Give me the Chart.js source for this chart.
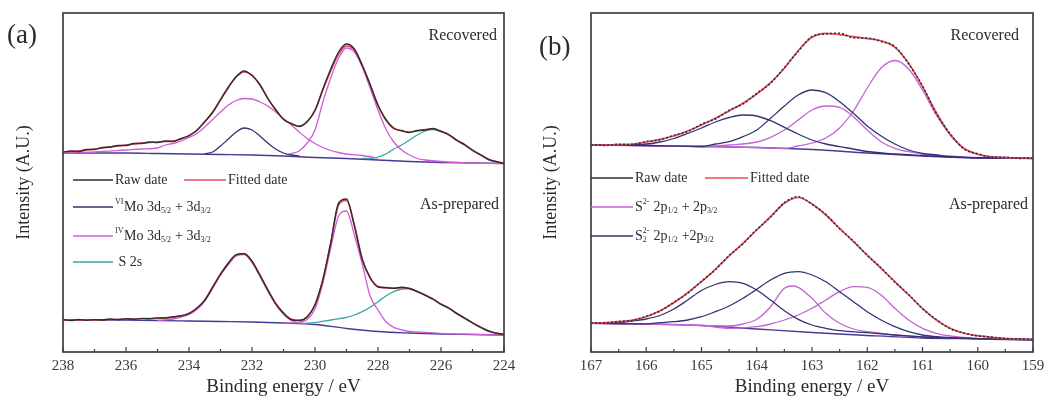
<!DOCTYPE html>
<html>
<head>
<meta charset="utf-8">
<title>XPS Mo 3d and S 2p</title>
<script src="https://cdn.jsdelivr.net/npm/chart.js@4.4.0/dist/chart.umd.min.js"></script>
<style>
  body { margin: 0; background: #fff; }
  .panel { position: absolute; top: 0; width: 527px; height: 400px; }
  #panelA { left: 0; }
  #panelB { left: 527px; }
</style>
</head>
<body>
<div class="panel" id="panelA"><canvas id="chartA"></canvas></div>
<div class="panel" id="panelB"><canvas id="chartB"></canvas></div>
<script>
// ---- panel (a): Mo 3d ----
const energyA = [238, 237.75, 237.5, 237.25, 237, 236.75, 236.5, 236.25, 236, 235.75, 235.5, 235.25, 235, 234.75, 234.5, 234.25, 234, 233.75, 233.5, 233.25, 233, 232.75, 232.5, 232.25, 232, 231.75, 231.5, 231.25, 231, 230.75, 230.5, 230.25, 230, 229.75, 229.5, 229.25, 229, 228.75, 228.5, 228.25, 228, 227.75, 227.5, 227.25, 227, 226.75, 226.5, 226.25, 226, 225.75, 225.5, 225.25, 225, 224.75, 224.5, 224.25, 224];
const baseEnergyA = [238, 237, 236, 235, 234, 233, 232, 231, 230, 229, 228, 227, 226, 225, 224];
const xTicksA = [238, 236, 234, 232, 230, 228, 226, 224];
const minorTicksA = [237, 235, 233, 231, 229, 227, 225];

// recovered
const recRawA = [200, 201, 200.5, 202.5, 202.5, 204.5, 205, 206.5, 206.5, 208.5, 208.5, 210, 209.5, 211, 210.5, 213.5, 216.5, 221.5, 230.5, 239.5, 252.5, 264.5, 275.5, 281, 276.5, 267.5, 253.5, 242.5, 232.5, 228.5, 225.5, 230.5, 241.5, 263, 283, 300, 308, 303, 286.5, 267.5, 246.5, 232.5, 223.5, 221.5, 219.5, 221.5, 222, 223.5, 220.5, 217.5, 211.5, 207.5, 201.5, 197.5, 192.5, 190.5, 188.5];
const recFitA = [200, 200.5, 201, 202, 203, 204, 205, 206, 207, 208, 209, 209.5, 210, 210.5, 211, 213, 216, 222, 230, 240, 252, 265, 275, 280, 277, 267, 254, 242, 233, 228, 226, 230, 242, 262, 281, 298, 306, 302, 287, 267, 247, 232, 224, 221, 220, 221, 222.5, 223, 221, 217, 212, 207, 202, 197, 193, 190, 189];
const recBaseA = [199, 199, 199, 198.5, 198, 197.5, 197, 196, 194.5, 193.5, 192, 190.5, 189.5, 189, 188.5];
const recVIEnergyA = [233.5, 233.25, 233, 232.75, 232.5, 232.25, 232, 231.75, 231.5, 231.25, 231, 230.75, 230.5];
const recVIA = [198, 200, 206, 213, 220, 224, 222, 216, 209, 203, 199, 197, 196];
const recIV1EnergyA = [238, 237, 236, 235.5, 235, 234.75, 234.5, 234.25, 234, 233.75, 233.5, 233.25, 233, 232.75, 232.5, 232.25, 232, 231.75, 231.5, 231.25, 231, 230.75, 230.5, 230.25, 230, 229.75, 229.5, 229.25, 229, 228.5, 228];
const recIV1A = [199, 200, 202, 203, 204, 207, 208.5, 211, 214.5, 218.5, 225, 232.5, 240, 247, 251.5, 253.5, 253, 250, 246, 240, 233.5, 227, 220, 213.5, 208.5, 204.5, 201.5, 199.5, 198, 196.5, 194];
const recIV2EnergyA = [231, 230.75, 230.5, 230.25, 230, 229.75, 229.5, 229.25, 229, 228.75, 228.5, 228.25, 228, 227.75, 227.5, 227.25, 227, 226.75, 226.5, 226, 225, 224];
const recIV2A = [196, 198.5, 201, 209, 222, 250, 274, 294, 304, 300, 285, 264, 242, 223, 210, 202, 197, 193.5, 192, 190.5, 189, 188.5];
const recS2sEnergyA = [228.5, 228.25, 228, 227.75, 227.5, 227.25, 227, 226.75, 226.5, 226.25, 226, 225.75, 225.5, 225.25, 225, 224.75, 224.5, 224.25, 224];
const recS2sA = [193.5, 193.5, 195, 198, 203, 207, 212, 217, 221, 222.5, 220.5, 217, 212, 207, 202, 197, 193, 190, 188.7];

// as-prepared
const asRawA = [32.5, 31.5, 32.5, 31.8, 32.4, 32, 33, 32.3, 33.2, 32.7, 33.6, 33.2, 34.1, 34, 35.2, 36.3, 38.4, 44, 51.6, 64.9, 77.6, 89, 97.4, 98.2, 90.8, 76.6, 62.4, 48.4, 39, 32.3, 31.7, 35, 47.4, 72.5, 109.5, 149, 153, 126, 92.5, 74.5, 65, 64.5, 63.6, 64.8, 63.3, 60.7, 56.6, 53, 47.6, 44, 38.3, 34, 29, 25, 21, 19, 17.5];
const asFitA = [32, 32, 32, 32, 32, 32.3, 32.5, 32.7, 32.8, 33, 33.2, 33.5, 33.7, 34.2, 34.8, 36, 38.7, 43.7, 52, 64.5, 78, 88.7, 97, 98.5, 90.5, 77, 62, 48.7, 38.7, 32.7, 31.3, 35.3, 47, 72, 108.7, 147, 151.5, 127, 93, 74, 65.5, 64, 64, 64.3, 63.7, 60.3, 57, 52.7, 48, 43.7, 38.7, 33.7, 29.3, 24.7, 21.3, 18.7, 17.7];
const asBaseA = [32, 32, 31.8, 31.5, 31, 30.5, 30, 29, 27.5, 23.5, 20.5, 19, 18, 17.5, 17];
const asIV1EnergyA = [235, 234.5, 234.25, 234, 233.75, 233.5, 233.25, 233, 232.75, 232.5, 232.25, 232, 231.75, 231.5, 231.25, 231, 230.75, 230.5];
const asIV1A = [31.5, 33, 35, 37.5, 42.5, 51, 63.5, 77, 87.5, 96, 97.5, 89.5, 76, 61, 47.7, 37.7, 31.5, 29];
const asIV2EnergyA = [231, 230.75, 230.5, 230.25, 230, 229.75, 229.5, 229.25, 229, 228.75, 228.5, 228.25, 228, 227.75, 227.5, 227.25, 227, 226.5, 226, 225, 224];
const asIV2A = [29, 29.2, 29.5, 32.5, 43, 69, 104, 136, 141, 117, 88, 56, 42, 30.3, 24.7, 22, 20.7, 19.7, 18.7, 17.7, 17];
const asS2sEnergyA = [230.5, 230, 229.5, 229, 228.75, 228.5, 228.25, 228, 227.75, 227.5, 227.25, 227, 226.75, 226.5, 226.25, 226, 225.75, 225.5, 225.25, 225, 224.75, 224.5, 224.25, 224];
const asS2sA = [28.5, 29.3, 32, 34.7, 37, 40.3, 44.7, 50.3, 56, 60.3, 63, 63.5, 60, 56.8, 52.5, 47.8, 43.5, 38.5, 33.5, 29.2, 24.6, 21.2, 18.6, 17.6];

// ---- panel (b): S 2p ----
const energyB = [167, 166.75, 166.5, 166.25, 166, 165.75, 165.5, 165.25, 165, 164.75, 164.5, 164.25, 164, 163.75, 163.5, 163.25, 163, 162.75, 162.5, 162.25, 162, 161.75, 161.5, 161.25, 161, 160.75, 160.5, 160.25, 160, 159.75, 159.5, 159.25, 159];
const baseEnergyB = [167, 166, 165, 164, 163, 162, 161, 160, 159];
const xTicksB = [167, 166, 165, 164, 163, 162, 161, 160, 159];
const minorTicksB = [166.5, 165.5, 164.5, 163.5, 162.5, 161.5, 160.5, 159.5];

// recovered
const recRawB = [207.5, 206.5, 207.8, 207.5, 210.6, 212.2, 216.8, 220.4, 227.8, 233, 241.8, 248, 258.7, 268.6, 284.5, 300.6, 315.5, 318, 318.8, 314.2, 313.9, 310.5, 305.5, 288, 266, 238.6, 218.3, 203, 198.3, 194.8, 194.7, 193.6, 194];
const recFitB = [207, 207, 207.3, 208, 210, 212.7, 216, 221, 227, 233.7, 241, 248.7, 258, 269.3, 283.7, 301.3, 314.7, 318.7, 317.3, 315.3, 313.3, 311.3, 304.7, 288.7, 265.3, 239.3, 217.7, 203.7, 197.7, 195.3, 194.3, 194, 193.7];
const recBaseB = [207, 206.5, 205.5, 204.5, 202.5, 199, 196, 194, 193.5];
const recS22aEnergyB = [167, 166.5, 166, 165.75, 165.5, 165.25, 165, 164.75, 164.5, 164.25, 164, 163.75, 163.5, 163.25, 163, 162.75, 162.5, 162.25, 162, 161.5, 161, 160, 159];
const recS22aB = [207, 207, 208, 210, 213.5, 218.5, 224, 230, 234.5, 237, 236, 231.3, 224.7, 218, 212, 208, 205.3, 203, 200.5, 198, 196.5, 194.2, 193.7];
const recS22bEnergyB = [167, 166, 165, 164.75, 164.5, 164.25, 164, 163.75, 163.5, 163.25, 163, 162.75, 162.5, 162.25, 162, 161.75, 161.5, 161.25, 161, 160.75, 160.5, 160, 159];
const recS22bB = [207, 206.5, 205.5, 208, 210.3, 215.3, 222, 233.7, 246, 257, 262, 259.3, 250.3, 238.7, 226, 216, 208, 202, 198.7, 197, 195.3, 194.3, 193.7];
const recS2aEnergyB = [167, 166, 165, 164.5, 164, 163.75, 163.5, 163.25, 163, 162.75, 162.5, 162.25, 162, 161.75, 161.5, 161.25, 161, 160.5, 160, 159];
const recS2aB = [207, 206.5, 205.5, 207, 210, 214.7, 222, 232, 242, 246, 244.7, 235.3, 222, 210.3, 203.7, 200.3, 198, 196, 194.5, 193.7];
const recS2bEnergyB = [167, 165, 164, 163.5, 163.25, 163, 162.75, 162.5, 162.25, 162, 161.75, 161.5, 161.25, 161, 160.75, 160.5, 160.25, 160, 159.75, 159.5, 159];
const recS2bB = [207, 205.5, 204.5, 203.5, 206, 209, 214, 224, 241, 264, 284, 291.5, 283, 262, 237, 217, 203.5, 197.5, 195.2, 194.3, 193.7];

// as-prepared
const asRawB = [29, 28.8, 30.6, 31.6, 35.8, 40.9, 49.8, 58.8, 70.9, 82.2, 96.6, 108.1, 122.6, 134.8, 149.3, 155.5, 147.6, 137.6, 123.2, 110.9, 96.5, 84.2, 69.8, 57.5, 43.2, 32.5, 23.3, 19, 16, 15, 13.4, 13.2, 12.5];
const asFitB = [28.7, 29.3, 30.3, 32, 35.3, 41.3, 49.3, 59.3, 70.3, 82.7, 96, 108.7, 122, 135.3, 148.7, 154.5, 148, 137, 123.7, 110.3, 97, 83.7, 70.3, 57, 43.7, 32, 23.7, 18.7, 16.3, 14.7, 13.7, 13, 12.7];
const asBaseB = [28.7, 28, 26.5, 23, 19.5, 16.5, 14, 13, 12];
const asS22aEnergyB = [167, 166.5, 166.25, 166, 165.75, 165.5, 165.25, 165, 164.75, 164.5, 164.25, 164, 163.75, 163.5, 163.25, 163, 162.75, 162.5, 162, 161.5, 161, 160, 159];
const asS22aB = [28.7, 29.5, 31, 33, 36.5, 43, 52, 61.5, 67.5, 70.3, 68.7, 62, 52, 41.3, 32.7, 27, 23.7, 21.3, 19.3, 17, 15, 13.3, 12.3];
const asS22bEnergyB = [167, 166.5, 166, 165.75, 165.5, 165.25, 165, 164.75, 164.5, 164.25, 164, 163.75, 163.5, 163.25, 163, 162.75, 162.5, 162.25, 162, 161.75, 161.5, 161.25, 161, 160.75, 160.5, 160, 159];
const asS22bB = [28.7, 28.5, 28.2, 29.3, 30.3, 32, 35.3, 40.3, 46, 53.7, 62.7, 72, 78.7, 80.3, 77, 70.3, 60.3, 50.3, 40.3, 32, 25.3, 20.3, 17, 15.3, 14.3, 13.3, 12.4];
const asS2aEnergyB = [167, 166, 165, 164.5, 164.25, 164, 163.75, 163.5, 163.35, 163.25, 163, 162.75, 162.5, 162.25, 162, 161.75, 161.5, 161, 160, 159];
const asS2aB = [28.7, 28, 26.5, 26, 28, 32.7, 45.3, 63.7, 66, 64.7, 53.7, 38.7, 28.7, 23, 20.3, 18.7, 17, 15.2, 13.2, 12.3];
const asS2bEnergyB = [167, 166, 165, 164.5, 164, 163.75, 163.5, 163.25, 163, 162.75, 162.5, 162.25, 162, 161.75, 161.5, 161.25, 161, 160.75, 160.5, 160.25, 160, 159.5, 159];
const asS2bB = [28.7, 28, 26.5, 23.7, 25.3, 28, 32, 37, 43.7, 52, 60.3, 65.3, 64.7, 57, 43.7, 32, 23.7, 18.7, 16, 14.7, 13.7, 13, 12.7];

// colours
const RAW = '#2e2e2e';
const FIT = '#e8485e';
const NAVY = '#2f3470';
const PINK = '#d35ad6';
const TEAL = '#3aa5a2';
const BASE = '#453a95';
const VIOLET = '#c663d8';
const TEXT = '#2b2b2b';
const SERIF = '"Liberation Serif", "Times New Roman", serif';

Chart.defaults.font.family = SERIF;

function pts(xs, ys) {
  return xs.map((x, i) => ({ x: x, y: ys[i] }));
}

function line(xs, ys, color, width, dash) {
  return {
    data: pts(xs, ys),
    borderColor: color,
    borderWidth: width || 1.3,
    borderDash: dash || [],
    pointRadius: 0,
    fill: false,
    cubicInterpolationMode: 'monotone'
  };
}

// text with super/subscripts; plain strings or {sup, sub}
function drawRich(ctx, x, y, parts, size) {
  ctx.textAlign = 'left';
  ctx.textBaseline = 'middle';
  for (const p of parts) {
    if (typeof p === 'string') {
      ctx.font = size + 'px ' + SERIF;
      ctx.fillText(p, x, y);
      x += ctx.measureText(p).width;
    } else {
      ctx.font = Math.round(size * 0.6) + 'px ' + SERIF;
      let w = 0;
      if (p.sup) {
        ctx.fillText(p.sup, x, y - size * 0.38);
        w = ctx.measureText(p.sup).width;
      }
      if (p.sub) {
        ctx.fillText(p.sub, x, y + size * 0.3);
        w = Math.max(w, ctx.measureText(p.sub).width);
      }
      x += w + 0.5;
    }
  }
}

function makePanel(id, cfg) {
  const decor = {
    id: 'decor',
    afterDraw(chart) {
      const ctx = chart.ctx;
      const a = chart.chartArea;
      const xs = chart.scales.x;
      ctx.save();
      // frame
      ctx.strokeStyle = '#404040';
      ctx.lineWidth = 1.7;
      ctx.strokeRect(a.left, a.top, a.right - a.left, a.bottom - a.top);
      // inward ticks on the bottom axis
      ctx.lineWidth = 1.2;
      ctx.beginPath();
      cfg.ticks.forEach(v => {
        const px = xs.getPixelForValue(v);
        ctx.moveTo(px, a.bottom);
        ctx.lineTo(px, a.bottom - 5);
      });
      cfg.minor.forEach(v => {
        const px = xs.getPixelForValue(v);
        ctx.moveTo(px, a.bottom);
        ctx.lineTo(px, a.bottom - 3);
      });
      ctx.stroke();

      ctx.fillStyle = TEXT;
      // panel letter
      ctx.font = '27px ' + SERIF;
      ctx.textAlign = 'left';
      ctx.textBaseline = 'alphabetic';
      ctx.fillText(cfg.letter, cfg.letterX, cfg.letterY);
      // sample names
      ctx.font = '16px ' + SERIF;
      ctx.textAlign = 'right';
      ctx.fillText('Recovered', cfg.recX, 40);
      ctx.fillText('As-prepared', cfg.asX, 209);

      // legend
      cfg.legend.forEach(row => {
        ctx.strokeStyle = row.color;
        ctx.lineWidth = 1.4;
        ctx.beginPath();
        ctx.moveTo(row.x0, row.y);
        ctx.lineTo(row.x1, row.y);
        ctx.stroke();
        ctx.fillStyle = TEXT;
        drawRich(ctx, row.x1 + 2, row.y, row.text, 14);
      });
      ctx.restore();
    }
  };

  return new Chart(document.getElementById(id), {
    type: 'line',
    data: { datasets: cfg.datasets },
    options: {
      responsive: true,
      maintainAspectRatio: false,
      animation: false,
      devicePixelRatio: 1,
      layout: { padding: { top: 13, right: cfg.padRight, bottom: 0, left: 0 } },
      plugins: { legend: { display: false }, tooltip: { enabled: false } },
      scales: {
        x: {
          type: 'linear',
          min: cfg.min,
          max: cfg.max,
          reverse: true,
          afterBuildTicks: s => { s.ticks = cfg.ticks.map(v => ({ value: v })); },
          afterFit: s => { s.height = 48; },
          grid: { display: false, drawTicks: false },
          border: { display: false },
          ticks: { color: '#3a3a3a', font: { size: 15 }, padding: 5, maxRotation: 0, autoSkip: false },
          title: { display: true, text: 'Binding energy / eV', color: TEXT, font: { size: 19 }, padding: { top: 0, bottom: 2 } }
        },
        y: {
          min: 0,
          max: 339,
          afterFit: s => { s.width = cfg.yWidth; },
          grid: { display: false },
          border: { display: false },
          ticks: { display: false },
          title: { display: true, text: 'Intensity (A.U.)', color: TEXT, font: { size: 18 }, padding: { top: 13, bottom: 0 } }
        }
      }
    },
    plugins: [decor]
  });
}

makePanel('chartA', {
  min: 224, max: 238, ticks: xTicksA, minor: minorTicksA,
  padRight: 23, yWidth: 63,
  letter: '(a)', letterX: 7, letterY: 43, recX: 497, asX: 499,
  datasets: [
    line(energyA, recRawA, RAW, 1.4),
    line(energyA, recFitA, FIT, 1.6),
    line(recVIEnergyA, recVIA, NAVY),
    line(recIV1EnergyA, recIV1A, PINK),
    line(recIV2EnergyA, recIV2A, PINK),
    line(recS2sEnergyA, recS2sA, TEAL),
    line(baseEnergyA, recBaseA, BASE),
    line(energyA, asRawA, RAW, 1.4),
    line(energyA, asFitA, FIT, 1.6),
    line(asIV1EnergyA, asIV1A, PINK),
    line(asIV2EnergyA, asIV2A, PINK),
    line(asS2sEnergyA, asS2sA, TEAL),
    line(baseEnergyA, asBaseA, BASE)
  ],
  legend: [
    { color: RAW, x0: 73, x1: 113, y: 180, text: ['Raw date'] },
    { color: FIT, x0: 184, x1: 226, y: 180, text: ['Fitted date'] },
    { color: NAVY, x0: 73, x1: 113, y: 207, text: [{ sup: 'VI' }, 'Mo 3d', { sub: '5/2' }, ' + 3d', { sub: '3/2' }] },
    { color: PINK, x0: 73, x1: 113, y: 236, text: [{ sup: 'IV' }, 'Mo 3d', { sub: '5/2' }, ' + 3d', { sub: '3/2' }] },
    { color: TEAL, x0: 73, x1: 113, y: 262, text: [' S 2s'] }
  ]
});

makePanel('chartB', {
  min: 159, max: 167, ticks: xTicksB, minor: minorTicksB,
  padRight: 21, yWidth: 64,
  letter: '(b)', letterX: 12, letterY: 55, recX: 492, asX: 501,
  datasets: [
    line(energyB, recRawB, RAW, 1.5, [2, 2]),
    line(energyB, recFitB, FIT, 1.7),
    line(recS22aEnergyB, recS22aB, NAVY),
    line(recS22bEnergyB, recS22bB, NAVY),
    line(recS2aEnergyB, recS2aB, VIOLET),
    line(recS2bEnergyB, recS2bB, VIOLET),
    line(baseEnergyB, recBaseB, BASE),
    line(energyB, asRawB, RAW, 1.5, [2, 2]),
    line(energyB, asFitB, FIT, 1.7),
    line(asS22aEnergyB, asS22aB, NAVY),
    line(asS22bEnergyB, asS22bB, NAVY),
    line(asS2aEnergyB, asS2aB, VIOLET),
    line(asS2bEnergyB, asS2bB, VIOLET),
    line(baseEnergyB, asBaseB, BASE)
  ],
  legend: [
    { color: RAW, x0: 64, x1: 106, y: 178, text: ['Raw date'] },
    { color: FIT, x0: 178, x1: 221, y: 178, text: ['Fitted date'] },
    { color: VIOLET, x0: 64, x1: 106, y: 207, text: ['S', { sup: '2-' }, ' 2p', { sub: '1/2' }, ' + 2p', { sub: '3/2' }] },
    { color: NAVY, x0: 64, x1: 106, y: 236, text: ['S', { sup: '2-', sub: '2' }, ' 2p', { sub: '1/2' }, ' +2p', { sub: '3/2' }] }
  ]
});
</script>
</body>
</html>
